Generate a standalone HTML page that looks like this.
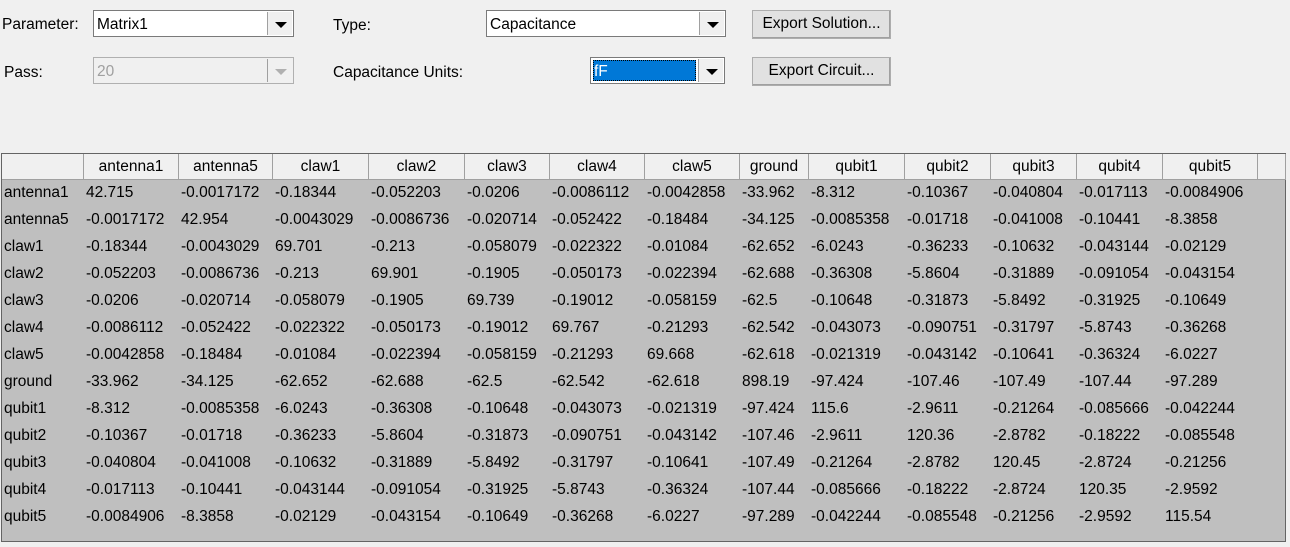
<!DOCTYPE html>
<html><head><meta charset="utf-8">
<style>
html,body{margin:0;padding:0;width:1290px;height:547px;background:#f0f0f0;overflow:hidden;font-family:"Liberation Sans",Arial,sans-serif;font-size:15.5px;color:#000;position:relative}
.abs{position:absolute}
.lbl{position:absolute;font-size:15.5px;line-height:17px}
.combo{position:absolute;background:#fff;border:1px solid #7a7a7a;box-sizing:border-box}
.combo .txt{position:absolute;left:3px;top:5px;line-height:17px}
.combo .arr{position:absolute;right:1px;top:1px;bottom:1px;width:25px;background:#f0f0f0;border-left:1px solid #a0a0a0;box-sizing:border-box}
.combo .arr:after{content:"";position:absolute;left:7px;top:10px;border-left:6px solid transparent;border-right:6px solid transparent;border-top:6px solid #000}
.combo.dis{background:#f0f0f0;border-color:#b0b0b0;color:#a0a0a0}
.combo.dis .arr:after{border-top-color:#b0b0b0}
.btn{position:absolute;background:#e1e1e1;border:1px solid #adadad;box-shadow:inset -1px -1px 0 #a0a0a0;box-sizing:border-box;text-align:center;line-height:26px}
#tbl{position:absolute;left:1px;top:153px;width:1285px;height:389px;background:#bfbfbf;border:1px solid #646464;box-sizing:border-box}
.hc{position:absolute;top:0;height:26px;background:#f0f0f0;border-right:1px solid #a0a0a0;border-bottom:1px solid #a0a0a0;box-sizing:border-box;text-align:center;line-height:25px}
.dc{position:absolute;height:27px;line-height:27px;white-space:nowrap}
</style></head><body>
<div class="lbl" style="left:2px;top:16px">Parameter:</div>
<div class="combo" style="left:93px;top:10px;width:201px;height:27px"><span class="txt">Matrix1</span><span class="arr"></span></div>
<div class="lbl" style="left:4px;top:64px">Pass:</div>
<div class="combo dis" style="left:93px;top:57px;width:201px;height:27px"><span class="txt">20</span><span class="arr"></span></div>
<div class="lbl" style="left:333px;top:17px">Type:</div>
<div class="combo" style="left:486px;top:10px;width:240px;height:27px"><span class="txt">Capacitance</span><span class="arr"></span></div>
<div class="lbl" style="left:333px;top:64px">Capacitance Units:</div>
<div class="combo" style="left:590px;top:57px;width:135px;height:27px"><span class="abs" style="left:2px;top:2px;width:103px;height:21px;background:#0078d7;outline:1px dotted #000;outline-offset:-1px"></span><span class="txt" style="color:#fff;left:3px">fF</span><span class="arr"></span></div>
<div class="btn" style="left:752px;top:10px;width:139px;height:29px">Export Solution...</div>
<div class="btn" style="left:752px;top:57px;width:139px;height:29px">Export Circuit...</div>
<div id="tbl"></div>
<script>
const names=["antenna1","antenna5","claw1","claw2","claw3","claw4","claw5","ground","qubit1","qubit2","qubit3","qubit4","qubit5"];
const colEdges=[0,82,177,271,367,463,548,643,738,807,903,989,1075,1161,1256,1284];
const rowAntenna1=["42.715","-0.0017172","-0.18344","-0.052203","-0.0206","-0.0086112","-0.0042858","-33.962","-8.312","-0.10367","-0.040804","-0.017113","-0.0084906"];
const rowAntenna5=["-0.0017172","42.954","-0.0043029","-0.0086736","-0.020714","-0.052422","-0.18484","-34.125","-0.0085358","-0.01718","-0.041008","-0.10441","-8.3858"];
const rowClaw1=["-0.18344","-0.0043029","69.701","-0.213","-0.058079","-0.022322","-0.01084","-62.652","-6.0243","-0.36233","-0.10632","-0.043144","-0.02129"];
const rowClaw2=["-0.052203","-0.0086736","-0.213","69.901","-0.1905","-0.050173","-0.022394","-62.688","-0.36308","-5.8604","-0.31889","-0.091054","-0.043154"];
const rowClaw3=["-0.0206","-0.020714","-0.058079","-0.1905","69.739","-0.19012","-0.058159","-62.5","-0.10648","-0.31873","-5.8492","-0.31925","-0.10649"];
const rowClaw4=["-0.0086112","-0.052422","-0.022322","-0.050173","-0.19012","69.767","-0.21293","-62.542","-0.043073","-0.090751","-0.31797","-5.8743","-0.36268"];
const rowClaw5=["-0.0042858","-0.18484","-0.01084","-0.022394","-0.058159","-0.21293","69.668","-62.618","-0.021319","-0.043142","-0.10641","-0.36324","-6.0227"];
const rowGround=["-33.962","-34.125","-62.652","-62.688","-62.5","-62.542","-62.618","898.19","-97.424","-107.46","-107.49","-107.44","-97.289"];
const rowQubit1=["-8.312","-0.0085358","-6.0243","-0.36308","-0.10648","-0.043073","-0.021319","-97.424","115.6","-2.9611","-0.21264","-0.085666","-0.042244"];
const rowQubit2=["-0.10367","-0.01718","-0.36233","-5.8604","-0.31873","-0.090751","-0.043142","-107.46","-2.9611","120.36","-2.8782","-0.18222","-0.085548"];
const rowQubit3=["-0.040804","-0.041008","-0.10632","-0.31889","-5.8492","-0.31797","-0.10641","-107.49","-0.21264","-2.8782","120.45","-2.8724","-0.21256"];
const rowQubit4=["-0.017113","-0.10441","-0.043144","-0.091054","-0.31925","-5.8743","-0.36324","-107.44","-0.085666","-0.18222","-2.8724","120.35","-2.9592"];
const rowQubit5=["-0.0084906","-8.3858","-0.02129","-0.043154","-0.10649","-0.36268","-6.0227","-97.289","-0.042244","-0.085548","-0.21256","-2.9592","115.54"];
const rows=[rowAntenna1,rowAntenna5,rowClaw1,rowClaw2,rowClaw3,rowClaw4,rowClaw5,rowGround,rowQubit1,rowQubit2,rowQubit3,rowQubit4,rowQubit5];
const tbl=document.getElementById('tbl');
for(let c=0;c<colEdges.length-1;c++){
  const h=document.createElement('div');h.className='hc';
  h.style.left=colEdges[c]+'px';h.style.width=(colEdges[c+1]-colEdges[c])+'px';
  h.textContent=(c>=1&&c<=13)?names[c-1]:'';
  
  
  tbl.appendChild(h);
}
for(let r=0;r<rows.length;r++){
  const top=25+r*27;
  const lab=document.createElement('div');lab.className='dc';
  lab.style.left='2px';lab.style.top=top+'px';lab.textContent=names[r];
  
  
  tbl.appendChild(lab);
  for(let c=0;c<rows[r].length;c++){
    const d=document.createElement('div');d.className='dc';
    d.style.left=(colEdges[c+1]+2)+'px';d.style.top=top+'px';d.textContent=rows[r][c];
    
    
    tbl.appendChild(d);
  }
}
</script>
</body></html>
